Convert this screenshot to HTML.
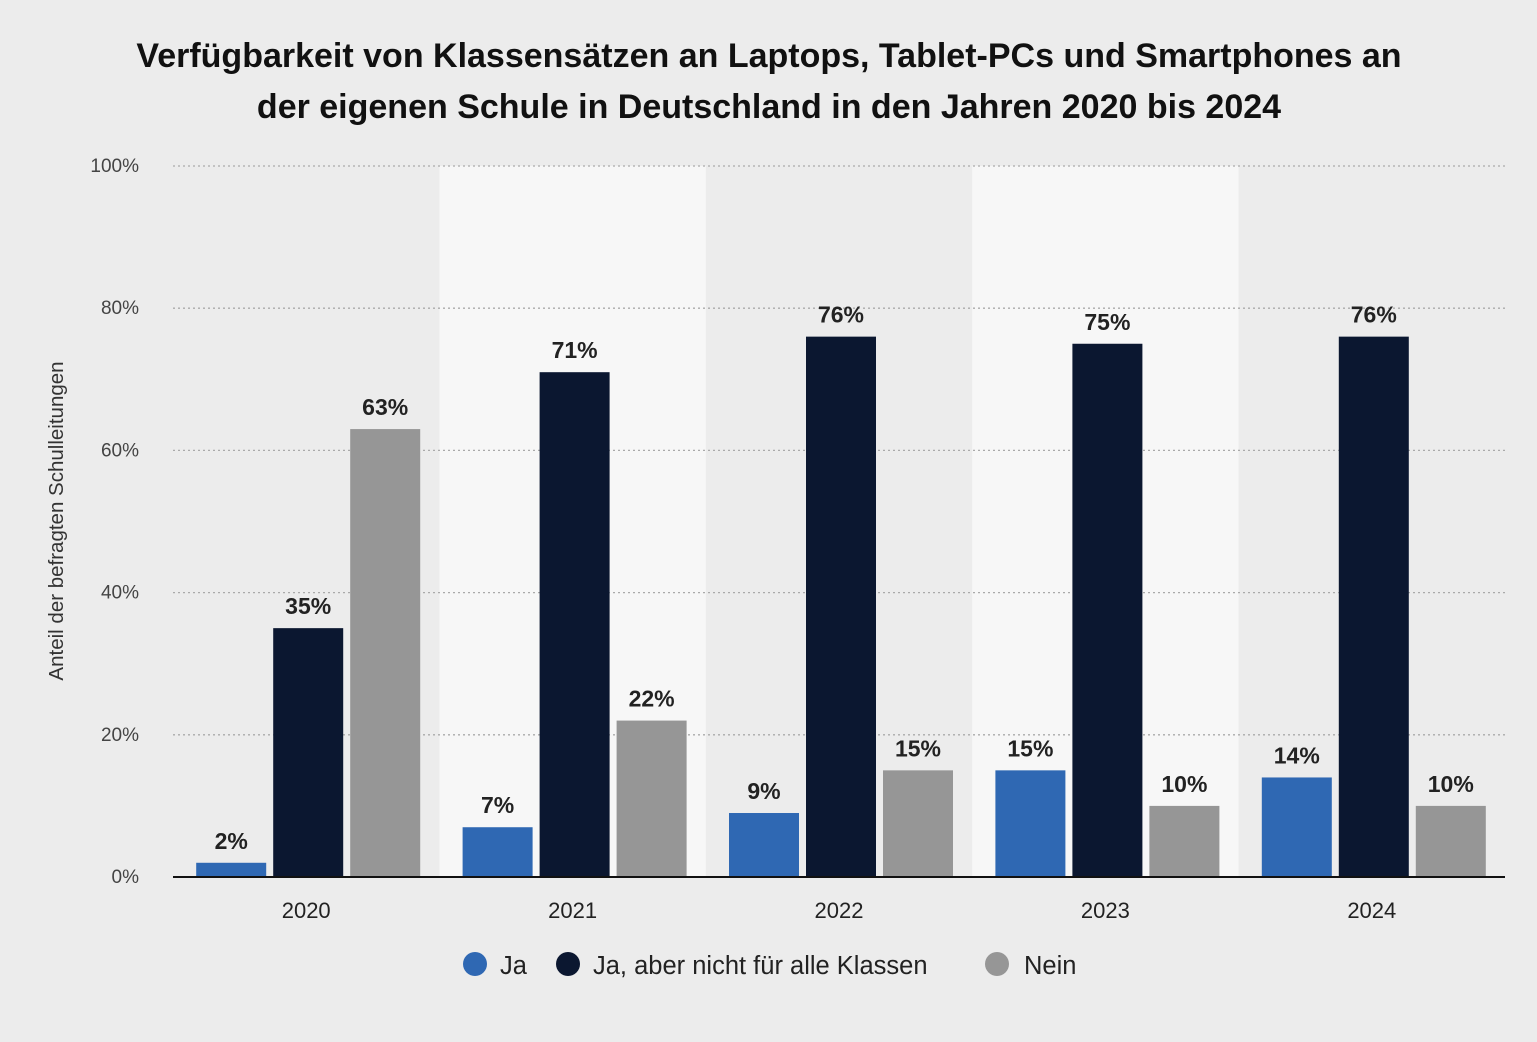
<!DOCTYPE html>
<html><head><meta charset="utf-8"><style>
body{margin:0;background:#ececec;}
svg{display:block;font-family:"Liberation Sans",sans-serif;}
</style></head><body>
<svg id="chart" width="1537" height="1042" viewBox="0 0 1537 1042">
<rect width="1537" height="1042" fill="#ececec"/>
<text x="769" y="67" text-anchor="middle" font-size="34" font-weight="bold" fill="#111">Verfügbarkeit von Klassensätzen an Laptops, Tablet-PCs und Smartphones an</text>
<text x="769" y="118" text-anchor="middle" font-size="34" font-weight="bold" fill="#111">der eigenen Schule in Deutschland in den Jahren 2020 bis 2024</text>
<text transform="translate(63,521) rotate(-90)" text-anchor="middle" font-size="20.5" fill="#333">Anteil der befragten Schulleitungen</text>
<g id="bands"></g><g id="grid"></g><g id="bars"></g>
<line x1="173" y1="877" x2="1505" y2="877" stroke="#111" stroke-width="2"/>
<g>
<g><circle cx="475" cy="964" r="12" fill="#2f68b3"/><text x="500" y="974" font-size="25.5" fill="#222">Ja</text></g>
<g><circle cx="568" cy="964" r="12" fill="#0b1730"/><text x="593" y="974" font-size="25.5" fill="#222">Ja, aber nicht für alle Klassen</text></g>
<g><circle cx="997" cy="964" r="12" fill="#969696"/><text x="1024" y="974" font-size="25.5" fill="#222">Nein</text></g>
</g>
</svg>
<script>
const categories=["2020","2021","2022","2023","2024"];
const ja=[2,7,9,15,14];
const jaAber=[35,71,76,75,76];
const nein=[63,22,15,10,10];
const yTicks=[0,20,40,60,80,100];
const NS="http://www.w3.org/2000/svg";
const x0=173,x1=1505,y0=877,y100=166;
const y=v=>y0-(y0-y100)*v/100;
const gw=(x1-x0)/categories.length;
const gx=i=>x0+gw*i;
function mk(t,a,p){const e=document.createElementNS(NS,t);for(const k in a)e.setAttribute(k,a[k]);p.appendChild(e);return e;}
const bands=document.getElementById('bands'),grid=document.getElementById('grid'),bars=document.getElementById('bars');
categories.forEach((c,i)=>{
 if(i%2===1){const r=mk('rect',{x:gx(i),y:y100,width:gw,height:y0-y100,fill:'#f7f7f7'},bands);
 
 }
 const t=mk('text',{x:gx(i)+gw/2,y:918,'text-anchor':'middle','font-size':22,fill:'#222'},grid);t.textContent=c;
 
 
});
yTicks.forEach(v=>{
 if(v>0){const l=mk('line',{x1:x0,x2:x1,y1:y(v),y2:y(v),stroke:'#aaa','stroke-width':1.3,'stroke-dasharray':'2,3'},grid);
 
 }
 const t=mk('text',{x:139,y:y(v)+6,'text-anchor':'end','font-size':19,fill:'#444'},grid);t.textContent=v+'%';
 
 
});
const series=[[ja,'#2f68b3','ja'],[jaAber,'#0b1730','ja-aber'],[nein,'#969696','nein']];
const bw=70,step=77;
series.forEach(([vals,col,nm],s)=>{
 vals.forEach((v,i)=>{
  const cx=gx(i)+gw/2+(s-1)*step+2;
  const r=mk('rect',{x:cx-bw/2,y:y(v),width:bw,height:y0-y(v),fill:col},bars);
  
  
  const t=mk('text',{x:cx,y:y(v)-14,'text-anchor':'middle','font-size':23,'font-weight':'bold',fill:'#222'},bars);t.textContent=v+'%';
  
  
 });
});
</script>
</body></html>
